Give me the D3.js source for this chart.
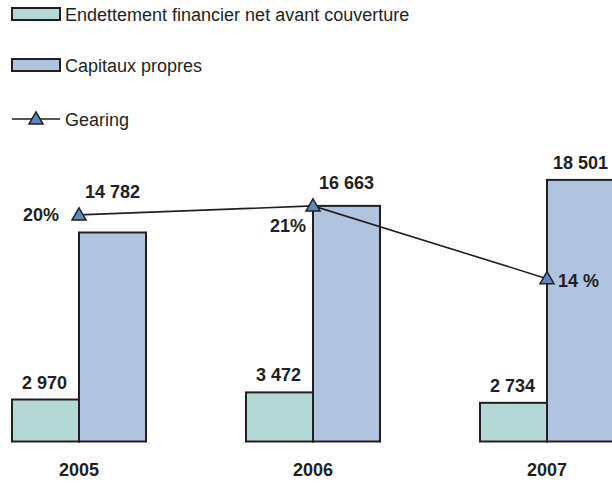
<!DOCTYPE html>
<meta charset="utf-8">
<style type="text/css">

body {
  margin: 0;
  background: #fff;
}

svg {
  font-family: Arial, "Liberation Sans", sans-serif;
}

.bar {
  stroke: #231f20;
  stroke-width: 2;
}

.val {
  font-weight: bold;
  font-size: 18px;
  fill: #231f20;
  text-anchor: middle;
}

.legend text {
  font-size: 18px;
  fill: #231f20;
}

.gearing {
  fill: none;
  stroke: #231f20;
  stroke-width: 1.6;
}

.marker {
  fill: #5b88c0;
  stroke: #231f20;
  stroke-width: 1.5;
}

</style>
<svg width="612" height="483"></svg>
<script src="https://cdnjs.cloudflare.com/ajax/libs/d3/7.8.5/d3.min.js"></script>
<script>

// data
var years = ["2005", "2006", "2007"];
var endettement = [2970, 3472, 2734];
var capitaux = [14782, 16663, 18501];
var gearing = [0.2009, 0.2084, 0.1478];
var gearingLabels = ["20%", "21%", "14 %"];
var seriesNames = ["Endettement financier net avant couverture", "Capitaux propres", "Gearing"];

var colors = ["#b4d8d5", "#b0c3df"];

var svg = d3.select("svg"),
    width = +svg.attr("width"),
    height = +svg.attr("height");

var baseline = 441.5;

var x = d3.scaleBand()
    .domain(years)
    .range([12, 614])
    .paddingInner(100 / 234)
    .paddingOuter(0);

var y = d3.scaleLinear()
    .domain([0, 20000])
    .range([baseline, baseline - 20000 * 0.01414]);

// gearing on its own axis
var yg = d3.scaleLinear()
    .domain([0, 0.25])
    .range([456, 156]);

var bw = x.bandwidth() / 2;

//BARS
var g = svg.append("g");

var rows = years.map(function(yr, i) {
  return { year: yr, debt: endettement[i], equity: capitaux[i], gear: gearing[i], glabel: gearingLabels[i], i: i };
});

g.selectAll(".debt")
  .data(rows)
  .enter().append("rect")
    .attr("class", "bar debt")
    .attr("x", function(d) { return x(d.year); })
    .attr("y", function(d) { return y(d.debt); })
    .attr("width", bw)
    .attr("height", function(d) { return baseline - y(d.debt); })
    .attr("fill", colors[0]);

g.selectAll(".equity")
  .data(rows)
  .enter().append("rect")
    .attr("class", "bar equity")
    .attr("x", function(d) { return x(d.year) + bw; })
    .attr("y", function(d) { return y(d.equity); })
    .attr("width", bw)
    .attr("height", function(d) { return baseline - y(d.equity); })
    .attr("fill", colors[1]);

//GEARING LINE
function gx(d) { return x(d.year) + bw; }
function gy(d) { return yg(d.gear); }

var line = d3.line().x(gx).y(gy);

g.append("path")
  .attr("class", "gearing")
  .attr("d", line(rows));

var tri = d3.symbol().type(d3.symbolTriangle).size(85);

g.selectAll(".marker")
  .data(rows)
  .enter().append("path")
    .attr("class", "marker")
    .attr("transform", function(d) { return "translate(" + gx(d) + "," + (gy(d) + 1) + ")"; })
    .attr("d", tri);

//VALUE LABELS
var fmt = function(v) { return d3.format(",")(v).replace(/,/g, " "); };

g.selectAll(".debtLabel")
  .data(rows)
  .enter().append("text")
    .attr("class", "val")
    .attr("x", function(d) { return x(d.year) + bw / 2 - 1; })
    .attr("y", function(d) { return y(d.debt) - 11; })
    .text(function(d) { return fmt(d.debt); });

g.selectAll(".equityLabel")
  .data(rows)
  .enter().append("text")
    .attr("class", "val")
    .attr("x", function(d) { return x(d.year) + bw * 1.5; })
    .attr("y", function(d) { return Math.min(y(d.equity), gy(d) - 6) - 11; })
    .text(function(d) { return fmt(d.equity); });

// gearing labels: left, below-left, right
var gPlace = [
  { dx: -20, dy: 6, anchor: "end" },
  { dx: -7, dy: 26, anchor: "end" },
  { dx: 11, dy: 8, anchor: "start" }
];

g.selectAll(".gearLabel")
  .data(rows)
  .enter().append("text")
    .attr("class", "val")
    .attr("x", function(d) { return gx(d) + gPlace[d.i].dx; })
    .attr("y", function(d) { return gy(d) + gPlace[d.i].dy; })
    .style("text-anchor", function(d) { return gPlace[d.i].anchor; })
    .text(function(d) { return d.glabel; });

//CATEGORY LABELS
g.selectAll(".year")
  .data(years)
  .enter().append("text")
    .attr("class", "val")
    .attr("x", function(d) { return x(d) + x.bandwidth() / 2; })
    .attr("y", 476)
    .text(function(d) { return d; });

//LEGEND
var legend = svg.append("g").attr("class", "legend");
var legendY = [14, 65, 119];

seriesNames.forEach(function(name, i) {
  var row = legend.append("g").attr("transform", "translate(12," + legendY[i] + ")");
  if (i < 2) {
    row.append("rect")
      .attr("class", "bar")
      .attr("x", 0).attr("y", -6)
      .attr("width", 48).attr("height", 12)
      .attr("fill", colors[i]);
  } else {
    row.append("line")
      .attr("x1", 0).attr("x2", 48)
      .attr("y1", 0).attr("y2", 0)
      .attr("stroke", "#231f20").attr("stroke-width", 1.6);
    row.append("path")
      .attr("class", "marker")
      .attr("transform", "translate(24,1)")
      .attr("d", tri);
  }
  row.append("text")
    .attr("x", 53)
    .attr("y", 6.5)
    .text(name);
});

</script>
